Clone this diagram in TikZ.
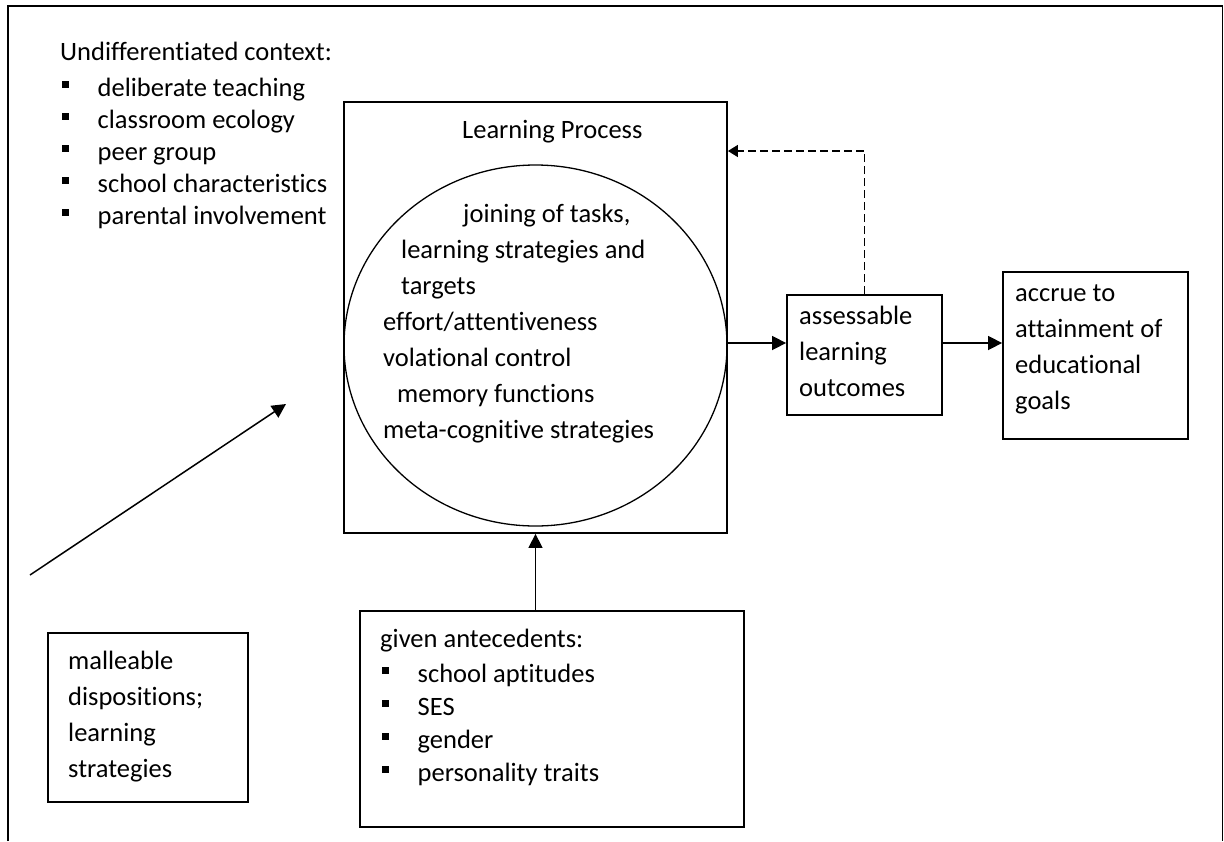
\documentclass[tikz,border=0pt]{standalone}
\usepackage{fontspec}
\setmainfont[Ligatures=NoCommon]{Carlito}
\usetikzlibrary{shapes.geometric,arrows.meta}
% square bullet followed by the item text
\newcommand{\sqbul}{\makebox[35.5pt][l]{\rule[8pt]{7pt}{7pt}}}
\begin{document}
\begin{tikzpicture}[x=1pt,y=-1pt,
  box/.style={draw,line width=1.8pt,inner sep=0pt},
  % multi-line texts are placed by the baseline of their last line
  txt/.style={anchor=base west,inner sep=0pt,align=left},
  wide/.style={font=\fontsize{26.5}{36}\selectfont},
  tight/.style={font=\fontsize{26.5}{32}\selectfont},
  mid/.style={font=\fontsize{26.5}{33}\selectfont},
  arr/.style={line width=1.5pt,-{Triangle[length=14pt,width=14pt]}},
  feedback/.style={line width=1.4pt,dash pattern=on 8pt off 4pt,-{Triangle[length=10pt,width=12pt]}}]

% page and outer frame (open at the bottom)
\useasboundingbox[fill=white] (0,0) rectangle (1224,841);
\draw[line width=1.9pt] (8,841) -- (8,6) -- (1222.5,6) -- (1222.5,841);

% context list, top left
\node[txt,tight] (ctxhead) at (60,60) {Undifferentiated context:};
\node[txt,tight] (ctxlist) at (62,224) {\sqbul deliberate teaching\\
  \sqbul classroom ecology\\
  \sqbul peer group\\
  \sqbul school characteristics\\
  \sqbul parental involvement};

% learning process box with the inner ellipse
\node[box,minimum width=383pt,minimum height=431pt] (lp) at (535.5,317.5) {};
\node[txt,wide] (lptitle) at (462,138) {Learning Process};
\node[draw,ellipse,line width=1.3pt,inner sep=0pt,minimum width=383pt,minimum height=361pt] (core) at (535.5,345.5) {};
\node[txt,wide] (coretext) at (383,438) {\hspace*{80pt}joining of tasks,\\
  \hspace*{18pt}learning strategies and\\
  \hspace*{18pt}targets\\
  effort/attentiveness\\
  volational control\\
  \hspace*{14pt}memory functions\\
  meta-cognitive strategies};

% outcomes
\node[box,minimum width=155pt,minimum height=120pt] (assess) at (864.5,355) {};
\node[txt,wide] (assesstext) at (799,396) {assessable\\learning\\outcomes};
\node[box,minimum width=185pt,minimum height=167pt] (goals) at (1095.5,355.5) {};
\node[txt,wide] (goalstext) at (1015,409) {accrue to\\attainment of\\educational\\goals};

% antecedents
\node[box,minimum width=384pt,minimum height=216pt] (given) at (552,719) {};
\node[txt,mid] (givenhead) at (380,647) {given antecedents:};
\node[txt,mid] (givenlist) at (382,781) {\sqbul school aptitudes\\
  \sqbul SES\\
  \sqbul gender\\
  \sqbul personality traits};

% malleable dispositions
\node[box,minimum width=200pt,minimum height=169pt] (mall) at (148,717.5) {};
\node[txt,wide] (malltext) at (68,777) {malleable\\dispositions;\\learning\\strategies};

% connectors
\draw[arr] (core.east |- 0,343) -- (assess.west |- 0,343);
\draw[arr] (assess.east |- 0,343) -- (goals.west |- 0,343);
\draw[feedback] (assess.north) |- (lp.east |- 0,151);
\draw[arr] (given.north -| lp.south) -- (lp.south);
\coordinate (dstart) at (30,575);
\coordinate (dend) at (286,404);
\draw[arr] (dstart) -- (dend);
\end{tikzpicture}
\end{document}
